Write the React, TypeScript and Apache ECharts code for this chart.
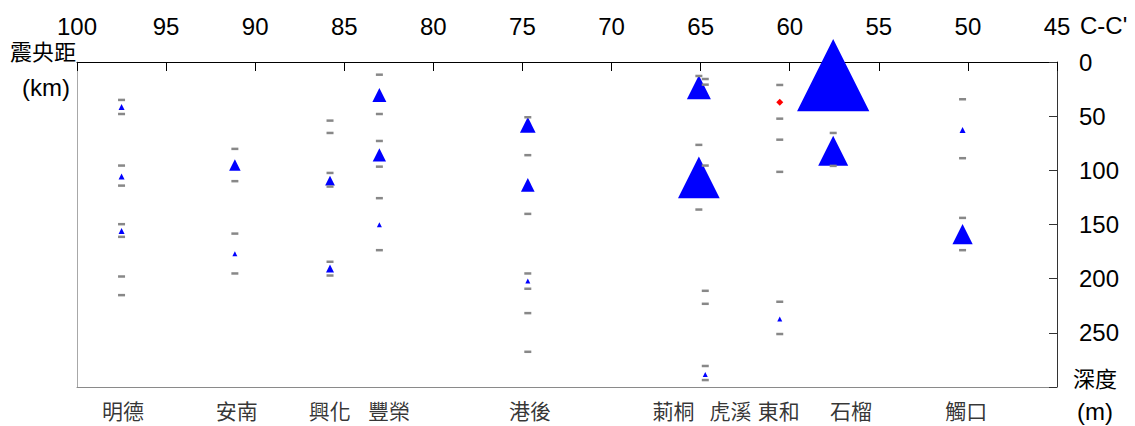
import React, { useEffect, useRef } from 'react';
import * as echarts from 'echarts';

// Stations along profile C-C'
const stations = ['明德', '安南', '興化', '豐榮', '港後', '莿桐', '虎溪', '東和', '石榴', '觸口'];
// Epicentral distance (km) of each station's column of marks
const stationDist = [97.5, 91.14, 85.8, 83.03, 74.7, 65.1, 64.74, 60.56, 57.56, 50.3];
// Epicentral distance (km) where each station name is written
const labelDist = [97.42, 91.03, 85.82, 82.49, 74.58, 66.52, 63.33, 60.62, 56.56, 50.1];

// Gray layer-boundary depths (m)
const layerDepths: number[][] = [
  [35.0, 48.0, 95.6, 114.1, 149.7, 161.4, 198.0, 215.2],
  [80.2, 110.0, 158.4, 195.2],
  [54.1, 65.5, 102.4, 115.0, 184.4, 197.1],
  [11.7, 48.0, 72.9, 96.6, 125.7, 173.7],
  [51.0, 86.0, 140.2, 195.2, 209.3, 231.8, 267.5],
  [12.9, 76.5, 136.2],
  [15.7, 20.9, 95.6, 211.2, 223.2, 280.6, 293.6],
  [21.2, 52.3, 71.7, 101.4, 221.3, 251.1],
  [65.5, 95.9],
  [34.4, 88.8, 143.9, 173.7],
];

// Blue triangle depths (m) and magnitudes (marker size)
const triDepths: number[][] = [
  [41.5, 105.8, 155.9],
  [95.0, 177.1],
  [109.5, 190.7],
  [30.4, 85.8, 150.3],
  [58.1, 113.4, 202.2],
  [23.2, 106.5],
  [288.4],
  [237.3],
  [12.2, 81.9],
  [62.7, 158.8],
];
const triSizes: number[][] = [
  [6, 6, 6],
  [11.5, 5],
  [9.7, 8],
  [14, 13.3, 5],
  [15.7, 13.7, 5],
  [24, 41.7],
  [5],
  [5],
  [72.3, 30],
  [6, 20.3],
];

// Red diamond marker
const redDist = [60.56];
const redDepth = [37.2];

// Axis ticks
const distMin = 45;
const distMax = 100;
const distStep = 5;
const depthMin = 0;
const depthMax = 300;
const depthStep = 50;

const LATIN = '"Liberation Sans", Arial, sans-serif';
const CJK = '"Noto Sans CJK TC", "Noto Sans CJK SC", sans-serif';

export default function App() {
  const ref = useRef<HTMLDivElement>(null);

  useEffect(() => {
    if (!ref.current) return;
    const chart = echarts.init(ref.current, null, { renderer: 'svg' });

    const dashData: number[][] = [];
    layerDepths.forEach((arr, i) => arr.forEach((d) => dashData.push([stationDist[i], d])));

    const triData: any[] = [];
    triDepths.forEach((arr, i) =>
      arr.forEach((d, j) => {
        const s = triSizes[i][j];
        triData.push({ value: [stationDist[i], d], symbolSize: [s, s] });
      })
    );

    const redData = redDist.map((x, i) => [x, redDepth[i]]);
    const labelData = stations.map((name, i) => ({ name, value: [labelDist[i], depthMax] }));

    chart.setOption({
      animation: false,
      grid: { left: 77, right: 78, top: 62, bottom: 39 },
      xAxis: [
        {
          type: 'value',
          position: 'top',
          min: distMin,
          max: distMax,
          interval: distStep,
          inverse: true,
          axisLine: { show: true, onZero: false, lineStyle: { color: '#000', width: 1 } },
          axisTick: { show: true, inside: true, length: 9, lineStyle: { color: '#000' } },
          axisLabel: { fontSize: 24, color: '#000', fontFamily: LATIN, margin: 24 },
          splitLine: { show: false },
        },
        {
          type: 'value',
          position: 'bottom',
          min: distMin,
          max: distMax,
          inverse: true,
          axisLine: { show: true, onZero: false, lineStyle: { color: '#8a8a8a' } },
          axisTick: { show: false },
          axisLabel: { show: false },
          splitLine: { show: false },
        },
      ],
      yAxis: [
        {
          type: 'value',
          position: 'right',
          min: depthMin,
          max: depthMax,
          interval: depthStep,
          inverse: true,
          axisLine: { show: true, onZero: false, lineStyle: { color: '#333' } },
          axisTick: { show: true, inside: true, length: 8, lineStyle: { color: '#333' } },
          axisLabel: {
            fontSize: 24,
            color: '#000',
            fontFamily: LATIN,
            margin: 22,
            formatter: (v: number) => (v === depthMax ? '' : String(v)),
          },
          splitLine: { show: false },
        },
        {
          type: 'value',
          position: 'left',
          min: depthMin,
          max: depthMax,
          inverse: true,
          axisLine: { show: true, onZero: false, lineStyle: { color: '#a8a8a8' } },
          axisTick: { show: false },
          axisLabel: { show: false },
          splitLine: { show: false },
        },
      ],
      series: [
        {
          type: 'scatter',
          xAxisIndex: 0,
          yAxisIndex: 0,
          clip: false,
          symbol: 'triangle',
          itemStyle: { color: '#0000ff', opacity: 1 },
          data: triData,
          z: 2,
        },
        {
          type: 'scatter',
          xAxisIndex: 0,
          yAxisIndex: 0,
          clip: false,
          symbol: 'rect',
          symbolSize: [7, 2.5],
          itemStyle: { color: '#888888', opacity: 1 },
          data: dashData,
          z: 3,
        },
        {
          type: 'scatter',
          xAxisIndex: 0,
          yAxisIndex: 0,
          clip: false,
          symbol: 'diamond',
          symbolSize: [7, 7],
          itemStyle: { color: '#ff0000', opacity: 1 },
          data: redData,
          z: 4,
        },
        {
          type: 'scatter',
          xAxisIndex: 0,
          yAxisIndex: 0,
          clip: false,
          symbolSize: 0,
          silent: true,
          data: labelData,
          label: {
            show: true,
            position: 'bottom',
            distance: 12,
            formatter: (p: any) => p.name,
            fontSize: 21,
            color: '#000',
            fontFamily: CJK,
          },
        },
      ],
      graphic: [
        {
          type: 'text',
          left: 10,
          top: 39,
          style: { text: '震央距', fontSize: 22, fill: '#000', fontFamily: CJK },
        },
        {
          type: 'text',
          x: 70,
          y: 87,
          style: { text: '(km)', fontSize: 24, fill: '#000', fontFamily: LATIN, align: 'right', verticalAlign: 'middle' },
        },
        {
          type: 'text',
          x: 1080,
          y: 25,
          style: { text: "C-C'", fontSize: 24, fill: '#000', fontFamily: LATIN, align: 'left', verticalAlign: 'middle' },
        },
        {
          type: 'text',
          x: 1095,
          y: 377,
          style: { text: '深度', fontSize: 22, fill: '#000', fontFamily: CJK, align: 'center', verticalAlign: 'middle' },
        },
        {
          type: 'text',
          x: 1095,
          y: 411,
          style: { text: '(m)', fontSize: 24, fill: '#000', fontFamily: LATIN, align: 'center', verticalAlign: 'middle' },
        },
      ],
    });

    return () => chart.dispose();
  }, []);

  return (
    <div
      ref={ref}
      style={{ position: 'fixed', left: 0, top: 0, width: 1135, height: 426, background: '#fff' }}
    />
  );
}
